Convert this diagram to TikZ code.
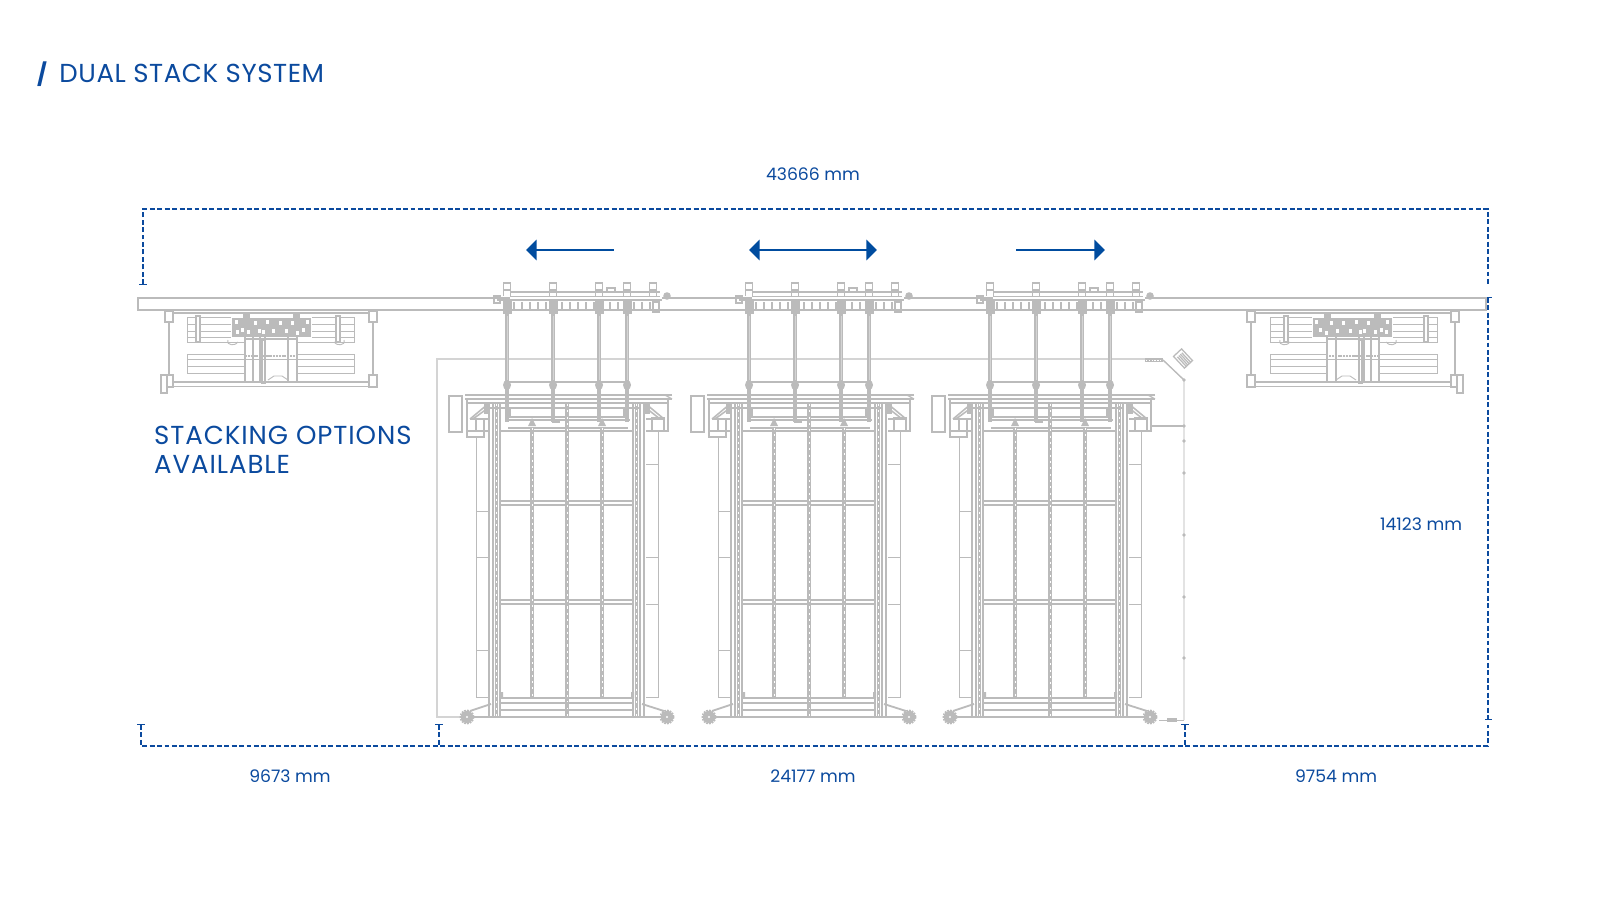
\documentclass[tikz,border=0pt]{standalone}
\usepackage{fontspec}
\usepackage{tikz}
\usetikzlibrary{arrows.meta}
\setmainfont{Poppins}
\newfontfamily\headfont[LetterSpace=3.6]{Poppins}
\newfontfamily\titlefont[LetterSpace=2.2]{Poppins}
\definecolor{dualblue}{HTML}{0B4A9E}
\definecolor{arrowblue}{HTML}{004C9F}
\definecolor{framegray}{HTML}{BBBBBB}
\definecolor{palegray}{HTML}{D4D4D4}
\tikzset{
  line/.style={draw=framegray,line width=1.8pt},
  fine/.style={draw=framegray,line width=1.3pt},
  heavy/.style={draw=framegray,line width=3pt},
  pale/.style={draw=palegray,line width=1.5pt},
  rod/.style={draw=framegray,line width=4.8pt},
  bead/.style={draw=white,line width=1.4pt,dash pattern=on 3pt off 6pt},
  dimline/.style={draw=dualblue,line width=1.9pt,dash pattern=on 7pt off 3.6pt},
  dimtick/.style={{Bar[width=10pt,line width=1.6pt]}-},
  movearrow/.style={draw=arrowblue,line width=3.4pt},
  headtext/.style={text=dualblue,inner sep=0pt,anchor=base west,font=\headfont\fontsize{37}{37}\selectfont},
  titletext/.style={text=dualblue,inner sep=0pt,anchor=base west,font=\titlefont\fontsize{37}{37}\selectfont},
  dimtext/.style={text=dualblue,inner sep=0pt,font=\fontsize{24.5}{24.5}\selectfont}
}
\begin{document}
\begin{tikzpicture}[x=0.05cm,y=-0.05cm]
\useasboundingbox (0,0) rectangle (1600,900);
% labels
\node[titletext] (title) at (37,82) {{\fontsize{31}{31}\selectfont\bfseries /}\hspace{7pt} DUAL STACK SYSTEM};
\node[headtext] (stackopt) at (154,444) {STACKING OPTIONS};
\node[headtext] (stackav) at (154,473) {AVAILABLE};
\node[dimtext] (dimall) at (813,174) {43666 mm};
\node[dimtext] (dimleft) at (290,776) {9673 mm};
\node[dimtext] (dimmid) at (813,776) {24177 mm};
\node[dimtext] (dimright) at (1336,776) {9754 mm};
\node[dimtext] (dimhigh) at (1421,524) {14123 mm};
% dimension lines
\coordinate (ta) at (143,285); \coordinate (tb) at (143,209);
\coordinate (tc) at (1488,209); \coordinate (td) at (1488,285);
\coordinate (ra) at (1488,297); \coordinate (rb) at (1488,720);
\coordinate (ba) at (141,724); \coordinate (bb) at (141,746);
\coordinate (bc) at (1488,746); \coordinate (bd) at (1488,725);
\coordinate (ma) at (439,724); \coordinate (mb) at (439,746);
\coordinate (na) at (1185,724); \coordinate (nb) at (1185,746);
\draw[dimline,dimtick] (ta) -- (tb) -- (tc) -- (td);
\draw[dimline,{Bar[width=10pt,line width=1.6pt]}-{Bar[width=10pt,line width=1.6pt]}] (ra) -- (rb);
\draw[dimline,dimtick] (ba) -- (bb) -- (bc) -- (bd);
\draw[dimline,dimtick] (ma) -- (mb);
\draw[dimline,dimtick] (na) -- (nb);
% moving arrows
\coordinate (al) at (526,250); \coordinate (am) at (614,250);
\coordinate (bl) at (749,250); \coordinate (bm) at (877,250);
\coordinate (cl) at (1016,250); \coordinate (cm) at (1105,250);
\draw[movearrow,{Triangle[length=15pt,width=29pt]}-] (al) -- (am);
\draw[movearrow,{Triangle[length=15pt,width=29pt]}-{Triangle[length=15pt,width=29pt]}] (bl) -- (bm);
\draw[movearrow,-{Triangle[length=15pt,width=29pt]}] (cl) -- (cm);
% hose and outline round the stacks
\draw[pale] (460,717) -- (437,717) -- (437,359) -- (1145,359);
\draw[pale] (1163,360) -- (1184,380) -- (1184,720);
\draw[heavy,line width=5pt] (1145,360) -- (1163,360);
\draw[white,line width=.6pt,dash pattern=on 2pt off 2pt] (1146,360) -- (1163,360);
\draw[line,line width=1.8pt] (1163,360) -- (1184,380);
\draw[line,line width=2pt] (1152,426) -- (1184,426);
\foreach \ym in {380,426,441,473,535,597,658}
  \fill[framegray] (1184,\ym) circle (1.8);
\draw[fine] (1159,720) -- (1184,720);
\fill[framegray] (1167,718) rectangle (1177,722);
\begin{scope}[shift={(1183,358.5)},rotate=-47]
  \draw[line,fill=white] (-8,-5.5) rectangle (8,5.5);
  \foreach \yl in {-3,-1,1,3}
    \draw[line] (-5,\yl) -- (8,\yl);
\end{scope}
% rail
\draw[line,line width=2.2pt,fill=white] (138,298) rectangle (1486,310);
% parked units
\foreach \flip/\base in {1/0,-1/1624}{
\begin{scope}[shift={(\base,0)},xscale=\flip]
  \draw[line] (165,313) -- (377,313);
  \draw[line] (169,313) -- (169,384);
  \draw[line] (373,313) -- (373,384);
  \draw[line,line width=2.4pt] (169,382) -- (373,382);
  \draw[fine] (169,386) -- (373,386);
  \draw[line,fill=white] (165,311) rectangle (173,322);
  \draw[line,fill=white] (369,311) rectangle (377,322);
  \draw[line,fill=white] (165,375) rectangle (173,387);
  \draw[line,fill=white] (369,375) rectangle (377,387);
  \draw[line,fill=white] (161,375) rectangle (167,393);
  % upper panel
  \draw[fine] (187,317) rectangle (354,342);
  \foreach \yp in {324,331,337}
    \draw[fine] (187,\yp) -- (354,\yp);
  \foreach \xp in {198,338}
    \draw[line,fill=white] (\xp-2,316) rectangle (\xp+2,342);
  \draw[fine] (228,340) .. controls (226,346) and (236,346) .. (238,342);
  \draw[fine] (334,342) .. controls (336,346) and (346,346) .. (344,340);
  % lower panel
  \draw[fine] (187,354) rectangle (354,373);
  \draw[fine] (187,359) -- (354,359);
  \draw[fine] (187,366) -- (354,366);
  % hoist block
  \fill[white] (231,314) rectangle (312,340);
  \fill[framegray] (232,318) rectangle (311,337);
  \fill[framegray] (243,314) rectangle (250,323);
  \fill[framegray] (293,314) rectangle (300,323);
  \foreach \xw/\yw in {235/320,241/328,254/321,258/329,266/320,272/329,279/321,285/329,291/321,302/328,306/320,247/330,262/330,236/330,296/331}
    \fill[white] (\xw,\yw) rectangle (\xw+3,\yw+4);
  % guide frames
  \fill[white] (245,338) rectangle (298,383);
  \foreach \xv in {245,297}
    \draw[line,line width=3.4pt] (\xv,336) -- (\xv,383);
  \foreach \xv in {253,260,265,288}
    \draw[line] (\xv,336) -- (\xv,383);
  \draw[line] (262,340) rectangle (265,383);
  \draw[line,line width=2.4pt] (245,339) -- (297,339);
  \draw[line,dash pattern=on 3pt off 1pt] (245,356) -- (297,356);
  \draw[fine] (245,359) -- (297,359);
  \draw[fine] (268,380) -- (274,376) -- (282,376) -- (288,380);
  \draw[line] (245,382) -- (297,382);
\end{scope}}
% stacks with their carriages
\foreach \dx in {0,242,483}{
\begin{scope}[shift={(\dx,0)}]
  % carriage
  \fill[white] (510,292) rectangle (662,310);
  \draw[line] (510,292) -- (660,292);
  \draw[fine] (510,296) -- (660,296);
  \draw[line,line width=2.6pt] (497,300) -- (662,300);
  \draw[line] (510,310) -- (662,310);
  \foreach \xc in {514,522,...,656}
    \draw[line,line width=2.2pt] (\xc,302) -- (\xc,310);
  \foreach \xc in {507,553,599,627,653}{
    \draw[line,line width=2.2pt,fill=white] (\xc-3.5,283) rectangle (\xc+3.5,290);
    \draw[line,line width=2.2pt] (\xc-3.5,288) -- (\xc-3.5,296) (\xc+3.5,288) -- (\xc+3.5,296);}
  \draw[line,fill=white] (607,288) rectangle (615,292);
  \draw[line] (653,302) rectangle (659,312);
  \draw[line] (494,296) rectangle (500,303);
  \fill[framegray] (667,296) circle (3.8);
  \foreach \xc in {507,553,599,627}{
    \fill[framegray] (\xc-4.5,299) rectangle (\xc+4.5,314);
    \draw[rod] (\xc,312) -- (\xc,422);
    \draw[palegray,line width=.8pt] (\xc,316) -- (\xc,380);
    \fill[framegray] (\xc,385) ellipse (4 and 5);}
  \foreach \xa/\xb in {507/553,553/599,599/627}
    \draw[line,line width=2.4pt] (\xa,382) -- (\xb,382);
  % top beam
  \draw[line,line width=2.2pt] (465,395) -- (672,395);
  \draw[line] (465,399) -- (672,399);
  \draw[line,line width=2.6pt] (467,403) -- (668,403);
  \draw[line] (490,408) -- (640,408);
  \draw[line] (506,417) -- (628,417);
  \draw[line,line width=3pt] (505,420) -- (630,420);
  \draw[line] (508,428) -- (628,428);
  \draw[line,line width=2.4pt] (501,431) -- (633,431);
  \draw[line] (510,408) -- (510,417) (624,408) -- (624,417);
  \fill[framegray] (552,419) rectangle (560,423);
  % left drive
  \draw[line,fill=white] (449,396) rectangle (462,432);
  \draw[line,line width=2.2pt] (467,399) -- (467,431) -- (488,431);
  \draw[line,line width=2.2pt] (470,419) -- (488,404) (473,419) -- (488,408);
  \draw[line] (470,419) -- (488,419);
  \draw[line,fill=white] (467,431) rectangle (484,437);
  \draw[line] (476,419) rectangle (484,431);
  \fill[framegray] (484,404) rectangle (490,414);
  % right drive
  \draw[line,line width=2.2pt] (668,399) -- (668,431) -- (646,431);
  \draw[line,line width=2.2pt] (664,419) -- (646,404) (660,419) -- (646,408);
  \draw[line] (664,419) -- (646,419);
  \draw[line,line width=2.4pt] (652,418) rectangle (664,431);
  \draw[line] (665,395) -- (672,399);
  \fill[framegray] (643,404) rectangle (650,414);
  % side panels
  \draw[fine] (476,437) -- (476,697) -- (488,697);
  \foreach \yp in {511,557,650}
    \draw[fine] (476,\yp) -- (488,\yp);
  \draw[fine] (658,431) -- (658,697) -- (646,697);
  \foreach \yp in {464,557,604}
    \draw[fine] (646,\yp) -- (658,\yp);
  % columns
  \foreach \xq in {489,493,500,633,640,644}
    \draw[line] (\xq,404) -- (\xq,717);
  \foreach \xq in {496.5,636.5}{
    \draw[rod,line width=5.4pt] (\xq,404) -- (\xq,717);
    \draw[bead] (\xq,404) -- (\xq,717);}
  % shelves and inner posts
  \foreach \ys in {503,602}{
    \draw[line] (500,\ys-2) -- (633,\ys-2);
    \draw[line] (500,\ys+2) -- (633,\ys+2);}
  \foreach \xq in {532,602}{
    \draw[rod,line width=4.4pt] (\xq,428) -- (\xq,698);
    \draw[bead,line width=1.2pt] (\xq,428) -- (\xq,698);}
  \draw[rod,line width=4.6pt] (567,404) -- (567,717);
  \draw[bead,line width=1.2pt] (567,404) -- (567,717);
  \fill[framegray] (528,426) -- (532,418) -- (536,426) -- cycle;
  \fill[framegray] (598,426) -- (602,418) -- (606,426) -- cycle;
  % base
  \draw[line] (501,698) -- (633,698);
  \draw[line] (501,703) -- (633,703);
  \draw[line,line width=2.2pt] (501,710) -- (633,710);
  \draw[line,line width=3.4pt] (470,717) -- (664,717);
  \fill[framegray] (500,692) rectangle (503,698) (631,692) rectangle (634,698);
  \draw[line,line width=2.6pt] (491,704) -- (470,711);
  \draw[line,line width=2.6pt] (642,704) -- (664,711);
  \foreach \xw in {467,667}{
    \fill[framegray] (\xw,717) circle (6.2);
    \draw[framegray,line width=2.4pt,dash pattern=on 2.5pt off 1.5pt] (\xw,717) circle (6.6);
    \fill[white] (\xw,717) circle (1.2);}
\end{scope}}
\end{tikzpicture}
\end{document}
